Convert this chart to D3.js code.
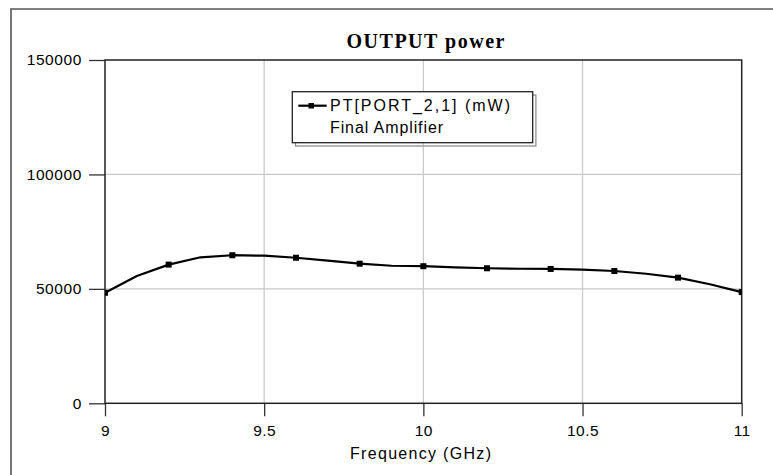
<!DOCTYPE html>
<html>
<head>
<meta charset="utf-8">
<script src="https://cdn.jsdelivr.net/npm/d3@7"></script>
<style>
  html, body { margin: 0; padding: 0; background: #fff; }
  svg { display: block; }
  text { font-family: Arial, "Liberation Sans", sans-serif; fill: #000; }
  text.title { font-family: "Liberation Serif", "Times New Roman", serif; font-weight: bold; }
  .tick text { font-size: 15.5px; }
</style>
</head>
<body>
<svg id="chart" width="773" height="475"></svg>
<script>
const title = "OUTPUT power";
const xLabel = "Frequency (GHz)";
const legendLine1 = "PT[PORT_2,1] (mW)";
const legendLine2 = "Final Amplifier";

const freq = [9.0, 9.1, 9.2, 9.3, 9.4, 9.5, 9.6, 9.7, 9.8, 9.9, 10.0,
              10.1, 10.2, 10.3, 10.4, 10.5, 10.6, 10.7, 10.8, 10.9, 11.0];
const power = [48300, 55600, 60600, 63800, 64700, 64500, 63600, 62300, 61000, 60100, 59900,
               59400, 59000, 58800, 58700, 58400, 57800, 56600, 54900, 52000, 48600];
const markerFreq = [9.0, 9.2, 9.4, 9.6, 9.8, 10.0, 10.2, 10.4, 10.6, 10.8, 11.0];

const xTicks = [9, 9.5, 10, 10.5, 11];
const yTicks = [0, 50000, 100000, 150000];
const xDomain = [9, 11];
const yDomain = [0, 150000];

const data = freq.map((f, i) => ({ f, p: power[i] }));
const markers = data.filter(d => markerFreq.includes(d.f));

const svg = d3.select("#chart");
const L = 105, R = 741.7, T = 60, B = 403.3;

const x = d3.scaleLinear().domain(xDomain).range([L, R]);
const y = d3.scaleLinear().domain(yDomain).range([B, T]);

// outer frame
svg.append("path")
  .attr("d", `M11,475 L11,9 L773,9`)
  .attr("fill", "none").attr("stroke", "#555").attr("stroke-width", 1.6);

// grid
svg.append("g").selectAll("line").data(xTicks.slice(1, -1)).join("line")
  .attr("x1", d => x(d)).attr("x2", d => x(d)).attr("y1", T).attr("y2", B)
  .attr("stroke", "#c8c8c8").attr("stroke-width", 1.2);
svg.append("g").selectAll("line").data(yTicks.slice(1, -1)).join("line")
  .attr("x1", L).attr("x2", R).attr("y1", d => y(d)).attr("y2", d => y(d))
  .attr("stroke", "#c8c8c8").attr("stroke-width", 1.2);

// axes
const yAxis = d3.axisLeft(y).tickValues(yTicks).tickSize(16).tickPadding(7).tickFormat(d3.format("d"));
const gy = svg.append("g").attr("transform", `translate(${L},0)`).call(yAxis);
gy.select(".domain").remove();
gy.selectAll(".tick line").attr("stroke", "#333").attr("stroke-width", 1.3);
gy.selectAll(".tick text").style("letter-spacing", "0.6px").style("fill", "#000");

const xAxis = d3.axisBottom(x).tickValues(xTicks).tickSize(13).tickPadding(9).tickFormat(d3.format(""));
const gx = svg.append("g").attr("transform", `translate(0,${B})`).call(xAxis);
gx.select(".domain").remove();
gx.selectAll(".tick line").attr("stroke", "#333").attr("stroke-width", 1.3);
gx.selectAll(".tick text").style("letter-spacing", "0.5px").style("fill", "#000");

// plot frame
svg.append("rect").attr("x", L).attr("y", T).attr("width", R - L).attr("height", B - T)
  .attr("fill", "none").attr("stroke", "#222").attr("stroke-width", 1.5);

// clip
svg.append("clipPath").attr("id", "clip").append("rect")
  .attr("x", L).attr("y", T).attr("width", R - L).attr("height", B - T);

const line = d3.line().x(d => x(d.f)).y(d => y(d.p));
const plot = svg.append("g").attr("clip-path", "url(#clip)");
plot.append("path").datum(data).attr("d", line)
  .attr("fill", "none").attr("stroke", "#000").attr("stroke-width", 2.2).attr("stroke-linejoin", "round");
plot.selectAll("rect.m").data(markers).join("rect").attr("class", "m")
  .attr("x", d => x(d.f) - 3).attr("y", d => y(d.p) - 3)
  .attr("width", 6).attr("height", 6).attr("fill", "#000");

// title
svg.append("text").attr("class", "title").attr("x", 425.5).attr("y", 48.3).attr("text-anchor", "middle")
  .attr("font-size", 20)
  .attr("textLength", 158).attr("lengthAdjust", "spacing")
  .text(title);

// x label
svg.append("text").attr("x", 420.5).attr("y", 459).attr("text-anchor", "middle")
  .attr("font-size", 16).attr("textLength", 141).attr("lengthAdjust", "spacing")
  .text(xLabel);

// legend
const lg = svg.append("g");
lg.append("rect").attr("x", 295.5).attr("y", 95).attr("width", 240.4).attr("height", 51)
  .attr("fill", "none").attr("stroke", "#888").attr("stroke-width", 1.2);
lg.append("rect").attr("x", 292.3).attr("y", 91.7).attr("width", 240.4).attr("height", 51)
  .attr("fill", "#fff").attr("stroke", "#222").attr("stroke-width", 1.3);
lg.append("line").attr("x1", 298.3).attr("x2", 326.7).attr("y1", 105.7).attr("y2", 105.7)
  .attr("stroke", "#000").attr("stroke-width", 2.2);
lg.append("rect").attr("x", 308.5).attr("y", 103).attr("width", 5.5).attr("height", 5.5).attr("fill", "#000");
lg.append("text").attr("x", 330).attr("y", 110.7).attr("font-size", 16)
  .attr("textLength", 180).attr("lengthAdjust", "spacing").text(legendLine1);
lg.append("text").attr("x", 330).attr("y", 133.3).attr("font-size", 16)
  .attr("textLength", 113).attr("lengthAdjust", "spacing").text(legendLine2);
</script>
</body>
</html>
